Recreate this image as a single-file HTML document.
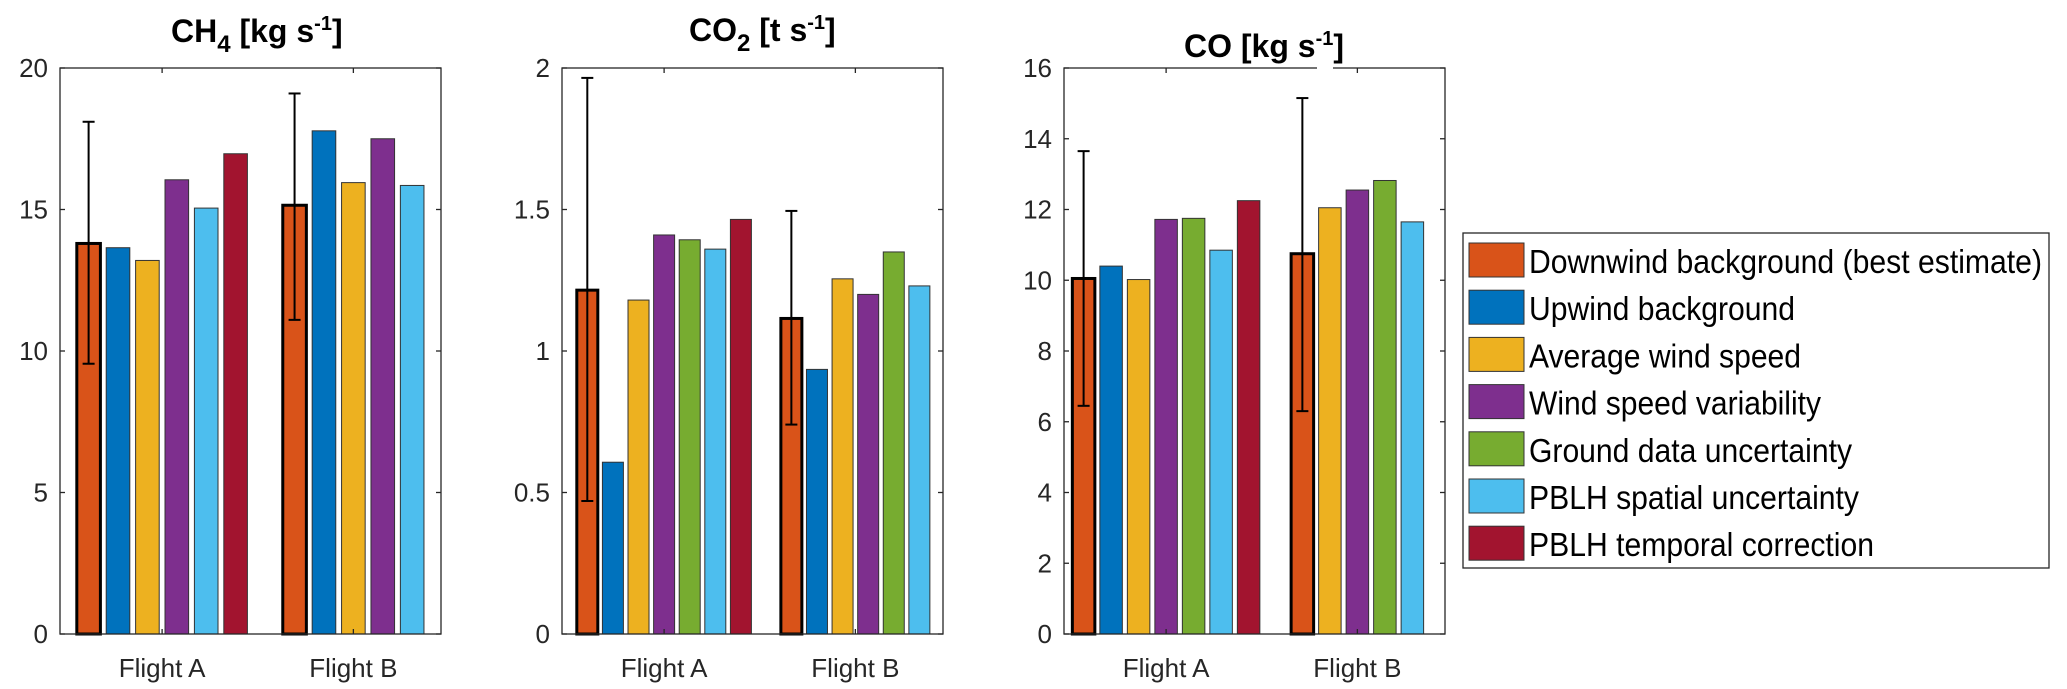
<!DOCTYPE html>
<html><head><meta charset="utf-8"><style>
html,body{margin:0;padding:0;background:#fff}
svg{display:block;font-family:"Liberation Sans",Arial,sans-serif}
</style></head><body>
<svg id="fig" width="2067" height="689" viewBox="0 0 2067 689">
<g id="charts"></g>
<g id="legend"></g>
</svg>
<script>
const seriesNames=["Downwind background (best estimate)","Upwind background","Average wind speed","Wind speed variability","Ground data uncertainty","PBLH spatial uncertainty","PBLH temporal correction"];
const seriesColors=["#D95319","#0072BD","#EDB120","#7E2F8E","#77AC30","#4DBEEE","#A2142F"];
const categories=["Flight A","Flight B"];
// CH4 values (null = not shown)
const ch4A=[13.8,13.65,13.2,16.05,null,15.05,16.97];
const ch4B=[15.15,17.78,15.95,17.5,null,15.85,null];
const ch4Err=[[9.55,18.1],[11.1,19.1]];
const ch4Ticks=[0,5,10,15,20];
// CO2 values
const co2A=[1.215,0.607,1.18,1.41,1.393,1.36,1.465];
const co2B=[1.115,0.935,1.255,1.2,1.35,1.23,null];
const co2Err=[[0.47,1.965],[0.74,1.495]];
const co2Ticks=[0,0.5,1,1.5,2];
// CO values
const coA=[10.05,10.4,10.02,11.72,11.75,10.85,12.25];
const coB=[10.75,null,12.05,12.55,12.82,11.65,null];
const coErr=[[6.45,13.65],[6.3,15.15]];
const coTicks=[0,2,4,6,8,10,12,14,16];

const NS="http://www.w3.org/2000/svg";
function mk(tag,attrs,parent){const e=document.createElementNS(NS,tag);for(const k in attrs)e.setAttribute(k,attrs[k]);parent.appendChild(e);return e;}

const charts=[
 {key:"ch4",left:60,ymax:20,ticks:ch4Ticks,labels:["0","5","10","15","20"],vals:[ch4A,ch4B],err:ch4Err,pitch:29.4,bw:23.6,
  title:["CH","4"," [kg s","-1","]"],tx:171,ty:42},
 {key:"co2",left:562,ymax:2,ticks:co2Ticks,labels:["0","0.5","1","1.5","2"],vals:[co2A,co2B],err:co2Err,pitch:25.6,bw:21,
  title:["CO","2"," [t s","-1","]"],tx:689,ty:41},
 {key:"co",left:1064,ymax:16,ticks:coTicks,labels:["0","2","4","6","8","10","12","14","16"],vals:[coA,coB],err:coErr,pitch:27.5,bw:22.5,
  title:[],tx:1184,ty:57,gap:[1317,1333]}
];
const plotTop=68,plotBottom=634,plotW=381;
const root=document.getElementById('charts');
charts.forEach(c=>{
  const g=mk('g',{},root);
  
  
  const y=v=>plotBottom-(v/c.ymax)*(plotBottom-plotTop);
  const catX=i=>c.left+plotW*(i===0?0.268:0.770);
  c.vals.forEach((arr,ci)=>{
    const idx=[];arr.forEach((v,si)=>{if(v!==null)idx.push(si);});
    const n=idx.length;
    idx.forEach((si,k)=>{
      const cx=catX(ci)+(k-(n-1)/2)*c.pitch;
      const v=arr[si];
      const r=mk('rect',{x:cx-c.bw/2,y:y(v),width:c.bw,height:y(0)-y(v),fill:seriesColors[si],stroke:si===0?'#000':'#333','stroke-width':si===0?3:1},g);
      
      
      if(si===0){
        const e=c.err[ci];
        const eg=mk('g',{stroke:'#000','stroke-width':2},g);
        
        
        mk('line',{x1:cx,x2:cx,y1:y(e[0]),y2:y(e[1])},eg);
        mk('line',{x1:cx-6,x2:cx+6,y1:y(e[0]),y2:y(e[0])},eg);
        mk('line',{x1:cx-6,x2:cx+6,y1:y(e[1]),y2:y(e[1])},eg);
      }
    });
  });
  const box=mk('rect',{x:c.left,y:plotTop,width:plotW,height:plotBottom-plotTop,fill:'none',stroke:'#262626','stroke-width':1.3},g);
  
  
  if(c.gap){mk('rect',{x:c.gap[0],y:plotTop-2,width:c.gap[1]-c.gap[0],height:4,fill:'#fff'},g);}
  c.ticks.forEach((t,i)=>{
    const yy=y(t);
    mk('line',{x1:c.left,x2:c.left+5,y1:yy,y2:yy,stroke:'#262626','stroke-width':1.3},g);
    mk('line',{x1:c.left+plotW,x2:c.left+plotW-5,y1:yy,y2:yy,stroke:'#262626','stroke-width':1.3},g);
    const tl=mk('text',{x:c.left-12,y:yy+9,'font-size':26,'text-anchor':'end',fill:'#262626'},g);
    tl.textContent=c.labels[i];
    
    
  });
  categories.forEach((cat,ci)=>{
    const xx=catX(ci);
    mk('line',{x1:xx,x2:xx,y1:plotBottom,y2:plotBottom-5,stroke:'#262626','stroke-width':1.3},g);
    mk('line',{x1:xx,x2:xx,y1:plotTop,y2:plotTop+5,stroke:'#262626','stroke-width':1.3},g);
    const xl=mk('text',{x:xx,y:677,'font-size':26,'text-anchor':'middle',fill:'#262626'},g);
    xl.textContent=cat;
    
    
  });
  const tt=mk('text',{x:c.tx,y:c.ty,'font-size':32,'font-weight':'bold',fill:'#000'},g);
  
  
  let html='';
  if(c.key==='co'){html='CO [kg s<tspan dy="-12" font-size="20">-1</tspan><tspan dy="12">]</tspan>';}
  else{const p=c.title;html=p[0]+'<tspan dy="10" font-size="24">'+p[1]+'</tspan><tspan dy="-10">'+p[2]+'</tspan><tspan dy="-12" font-size="20">'+p[3]+'</tspan><tspan dy="12">'+p[4]+'</tspan>';}
  tt.innerHTML=html;
});
const legendWidths=[513,266,272,292,323,330,345];
const lg=document.getElementById('legend');
mk('rect',{x:1463,y:233,width:586,height:335,fill:'#fff',stroke:'#262626','stroke-width':1.3},lg);
seriesNames.forEach((nm,i)=>{
  const yy=243+i*47.2;
  const sw=mk('rect',{x:1469,y:yy,width:55,height:34,fill:seriesColors[i],stroke:'#333','stroke-width':1},lg);
  
  
  const t=mk('text',{x:1529,y:yy+30,'font-size':33,fill:'#000',textLength:legendWidths[i],lengthAdjust:'spacingAndGlyphs'},lg);
  t.textContent=nm;
  
  
});
</script>
</body></html>
